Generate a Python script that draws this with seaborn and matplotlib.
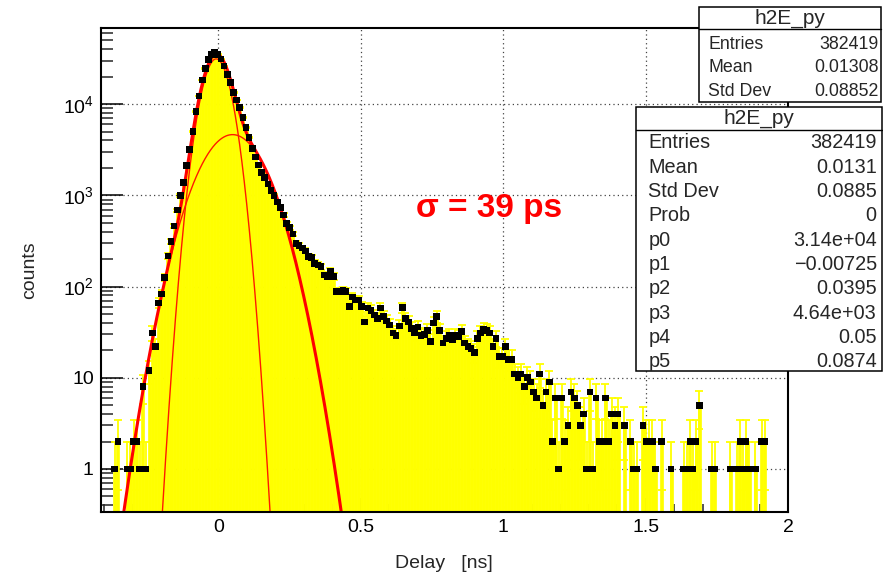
import numpy as np
import pandas as pd
import matplotlib
matplotlib.use("Agg")
import matplotlib.pyplot as plt
import seaborn as sns
from matplotlib.patches import Rectangle
from matplotlib.lines import Line2D
from matplotlib.ticker import FixedLocator, NullFormatter, FuncFormatter, MultipleLocator, LogLocator

# ---------------- data ----------------
x_min, x_max = -0.4126, 2.0
counts = [
    0, 0, 0, 0, 1, 2, 0, 0, 1, 1,
    2, 2, 1, 8, 1, 12, 31, 22, 66, 83,
    126, 217, 314, 461, 690, 1000, 1390, 2120, 3200, 5000,
    8280, 12300, 18400, 24600, 31000, 35200, 37100, 35200, 31300, 26200,
    21300, 17200, 13500, 11100, 9170, 7180, 5580, 4340, 3270, 2640,
    2150, 1790, 1580, 1333, 1130, 993, 847, 733, 610, 494,
    443, 378, 299, 281, 265, 246, 213, 209, 180, 172,
    165, 134, 128, 146, 128, 88, 87, 90, 88, 61,
    77, 71, 71, 60, 41, 58, 55, 49, 45, 58,
    47, 42, 38, 31, 29, 37, 59, 45, 41, 35,
    31, 36, 29, 30, 33, 25, 40, 47, 33, 24,
    27, 29, 26, 29, 28, 32, 24, 22, 21, 19,
    27, 31, 34, 33, 31, 22, 27, 17, 17, 22,
    16, 16, 11, 10, 11, 8, 10, 9, 7, 6,
    11, 5, 7, 9, 2, 6, 1, 6, 2, 3,
    7, 6, 5, 3, 4, 1, 7, 1, 6, 2,
    2, 6, 2, 4, 3, 4, 0, 3, 0, 2,
    1, 1, 0, 3, 2, 2, 2, 1, 0, 2,
    0, 0, 1, 0, 0, 0, 1, 1, 2, 1,
    2, 5, 0, 0, 0, 1, 1, 0, 0, 0,
    0, 1, 0, 1, 2, 1, 2, 1, 0, 1,
    0, 2, 2, 0, 0, 0, 0, 0, 0, 0,
]
fit_p = [3.14e4, -0.00725, 0.0395, 4.64e3, 0.05, 0.0874]

stats1_title = "h2E_py"
stats1_labels = ["Entries", "Mean", "Std Dev"]
stats1_values = ["382419", "0.01308", "0.08852"]
stats2_title = "h2E_py"
stats2_labels = ["Entries", "Mean", "Std Dev", "Prob", "p0", "p1", "p2", "p3", "p4", "p5"]
stats2_values = ["382419", "0.0131", "0.0885", "0", "3.14e+04", "\u22120.00725",
                 "0.0395", "4.64e+03", "0.05", "0.0874"]

x_ticks = [0, 0.5, 1, 1.5, 2]
x_tick_labels = ["0", "0.5", "1", "1.5", "2"]
y_ticks = [1, 10, 100, 1000, 10000]
y_lim = (0.335, 69000)
sigma_text = "\u03c3 = 39 ps"
x_label = "Delay   [ns]"
y_label = "counts"

# ---------------- style ----------------
sns.set_theme(style="white")
plt.rcParams["font.family"] = ["Liberation Sans", "DejaVu Sans"]
plt.rcParams["mathtext.fontset"] = "custom"
plt.rcParams["mathtext.rm"] = "Liberation Sans"
plt.rcParams["mathtext.it"] = "Liberation Sans:italic"

W, H = 883, 576
fig = plt.figure(figsize=(W / 100, H / 100), dpi=100)
fig.patch.set_facecolor("white")

def fx(px):
    return px / W

def fy(py):
    return 1 - py / H

ax_l, ax_r, ax_t, ax_b = 100.7, 788.3, 27.7, 512.3
ax = fig.add_axes([fx(ax_l), fy(ax_b), fx(ax_r) - fx(ax_l), fy(ax_t) - fy(ax_b)])
ax.set_facecolor("white")

nb = len(counts)
edges = np.linspace(x_min, x_max, nb + 1)
centers = 0.5 * (edges[:-1] + edges[1:])
N = np.array(counts, dtype=float)
df = pd.DataFrame({"delay": centers, "counts": N})

sns.histplot(data=df, x="delay", weights="counts", bins=nb, binrange=(x_min, x_max),
             color="#ffff00", alpha=1, edgecolor="#ffff00", linewidth=0.5, ax=ax, zorder=2)
ax.set_yscale("log")

m = N > 0
err = np.sqrt(N[m])
lo = np.minimum(err, N[m] - 1e-3)
ax.errorbar(centers[m], N[m], yerr=[lo, err], fmt="none", ecolor="#ffff00",
            elinewidth=1.3, capsize=2.6, capthick=1.3, zorder=3)

# fit curves
xs = np.linspace(x_min, x_max, 3000)
g1 = fit_p[0] * np.exp(-0.5 * ((xs - fit_p[1]) / fit_p[2]) ** 2)
g2 = fit_p[3] * np.exp(-0.5 * ((xs - fit_p[4]) / fit_p[5]) ** 2)
tot = g1 + g2
sns.lineplot(x=xs, y=np.maximum(g1, 1e-6), color="#ff1a00", lw=1.0, ax=ax, zorder=4)
sns.lineplot(x=xs, y=np.maximum(g2, 1e-6), color="#ff1a00", lw=1.0, ax=ax, zorder=4)
sns.lineplot(x=xs, y=np.maximum(tot, 1e-6), color="#ff0000", lw=2.2, ax=ax, zorder=4)

sns.scatterplot(x=centers[m], y=N[m], marker="s", s=23, color="black",
                edgecolor="none", linewidth=0, ax=ax, zorder=6)

# axes
ax.set_xlim(x_min, x_max)
ax.set_ylim(*y_lim)
ax.xaxis.set_major_locator(FixedLocator(x_ticks))
ax.set_xticklabels(x_tick_labels)
ax.xaxis.set_minor_locator(MultipleLocator(0.1))
ax.yaxis.set_major_locator(FixedLocator(y_ticks))
ax.yaxis.set_minor_locator(LogLocator(base=10, subs=np.arange(2, 10)))
ax.yaxis.set_minor_formatter(NullFormatter())

def yfmt(v, pos):
    if abs(v - 1) < 1e-9:
        return "1"
    if abs(v - 10) < 1e-9:
        return "10"
    return r"$\mathregular{10^{%d}}$" % int(round(np.log10(v)))

ax.yaxis.set_major_formatter(FuncFormatter(yfmt))
ax.tick_params(axis="x", which="major", direction="in", length=10, width=1.1,
               top=False, bottom=True, labelsize=14, pad=5, colors="black")
ax.tick_params(axis="x", which="minor", direction="in", length=5.5, width=1.1,
               top=False, bottom=True)
ax.tick_params(axis="y", which="major", direction="in", length=16, width=1.1,
               left=True, right=False, labelsize=14, pad=5, colors="black")
ax.tick_params(axis="y", which="minor", direction="in", length=8.5, width=1.1,
               left=True, right=False)
for s in ax.spines.values():
    s.set_color("black")
    s.set_linewidth(1.5)
    s.set_zorder(8)

ax.grid(True, which="major", axis="both", linestyle=(0, (1, 2.5)),
        color="#444444", lw=0.9)
ax.set_axisbelow(True)
ax.set_xlabel("")
ax.set_ylabel("")

fig.text(fx(444), fy(563), x_label, ha="center", va="center", fontsize=14)
fig.text(fx(30), fy(270), y_label, ha="center", va="center", fontsize=14, rotation=90)

fig.text(fx(416), fy(208), sigma_text, ha="left", va="center", fontsize=24,
         fontweight="bold", color="#ff0000")

# stats boxes
def stats_box(x0, x1, y0, y1, yh, title, labels, values, row_y0, row_dy,
              lab_x, val_x, fs_title, fs_row):
    fig.add_artist(Rectangle((fx(x0), fy(y1)), fx(x1) - fx(x0), fy(y0) - fy(y1),
                             transform=fig.transFigure, facecolor="white",
                             edgecolor="black", lw=1.1, zorder=20))
    fig.add_artist(Line2D([fx(x0), fx(x1)], [fy(yh), fy(yh)], transform=fig.transFigure,
                          color="black", lw=1.0, zorder=21))
    fig.text(fx((x0 + x1) / 2), fy((y0 + yh) / 2), title, ha="center", va="center",
             fontsize=fs_title, zorder=22)
    for i, (lab, val) in enumerate(zip(labels, values)):
        yy = row_y0 + i * row_dy
        fig.text(fx(lab_x), fy(yy), lab, ha="left", va="center", fontsize=fs_row, zorder=22)
        fig.text(fx(val_x), fy(yy), val, ha="right", va="center", fontsize=fs_row, zorder=22)

stats_box(699.3, 881, 7.3, 101.7, 29.3, stats1_title, stats1_labels, stats1_values,
          44.3, 23.7, 708.3, 878.3, 15, 12.8)
stats_box(636, 882, 106.7, 370.7, 130, stats2_title, stats2_labels, stats2_values,
          142.7, 24.33, 648.3, 876.7, 15, 14.3)

fig.savefig("out.png", dpi=100, facecolor="white")
